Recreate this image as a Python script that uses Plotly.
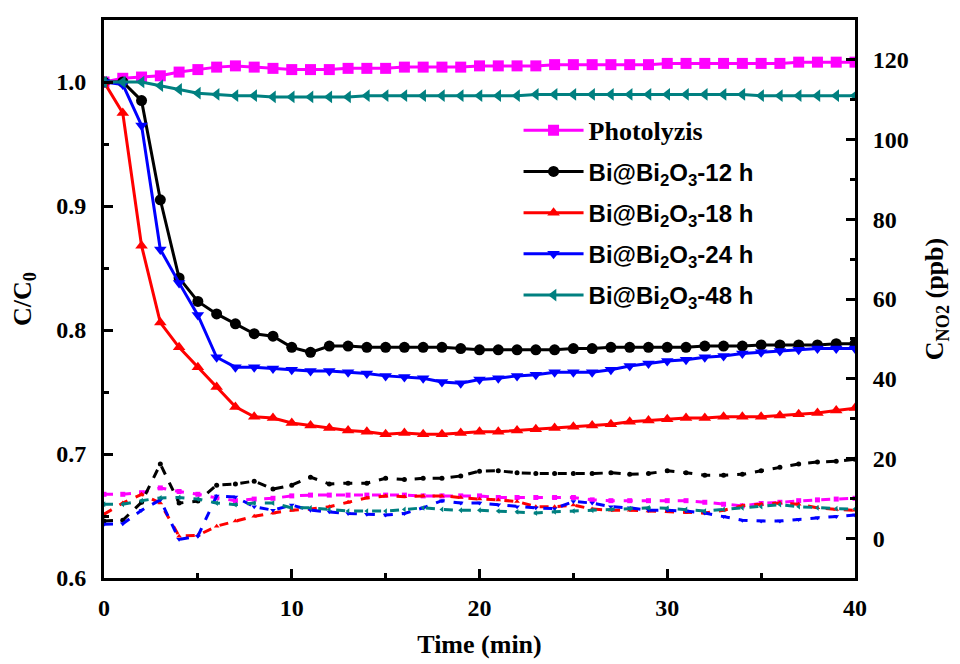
import plotly.graph_objects as go

t = list(range(41))

# C/C0 (left axis)
photolyzis = [1.000, 1.003, 1.004, 1.005, 1.008, 1.010, 1.012, 1.013, 1.012, 1.011, 1.010,
              1.010, 1.010, 1.011, 1.011, 1.011, 1.012, 1.012, 1.012, 1.012, 1.013,
              1.013, 1.013, 1.013, 1.014, 1.014, 1.014, 1.014, 1.014, 1.014, 1.015,
              1.015, 1.015, 1.015, 1.015, 1.015, 1.015, 1.016, 1.016, 1.016, 1.016]
bi12 = [1.000, 1.000, 0.985, 0.905, 0.842, 0.823, 0.813, 0.805, 0.797, 0.795, 0.786,
        0.782, 0.787, 0.787, 0.786, 0.786, 0.786, 0.786, 0.786, 0.785, 0.784,
        0.784, 0.784, 0.784, 0.784, 0.785, 0.785, 0.786, 0.786, 0.786, 0.786,
        0.786, 0.787, 0.787, 0.787, 0.788, 0.788, 0.788, 0.788, 0.789, 0.789]
bi18 = [1.000, 0.975, 0.868, 0.806, 0.786, 0.770, 0.754, 0.738, 0.730, 0.729, 0.725,
        0.723, 0.721, 0.719, 0.718, 0.716, 0.717, 0.716, 0.716, 0.717, 0.718,
        0.718, 0.719, 0.720, 0.721, 0.722, 0.723, 0.724, 0.726, 0.727, 0.728,
        0.729, 0.729, 0.730, 0.730, 0.730, 0.731, 0.732, 0.733, 0.735, 0.737]
bi24 = [1.000, 0.998, 0.965, 0.865, 0.838, 0.812, 0.778, 0.770, 0.770, 0.769, 0.768,
        0.767, 0.767, 0.766, 0.765, 0.763, 0.762, 0.761, 0.758, 0.757, 0.760,
        0.761, 0.763, 0.764, 0.766, 0.766, 0.766, 0.768, 0.771, 0.773, 0.775,
        0.776, 0.778, 0.779, 0.781, 0.782, 0.783, 0.784, 0.785, 0.785, 0.785]
bi48 = [1.000, 1.000, 1.000, 0.997, 0.994, 0.991, 0.990, 0.989, 0.989, 0.988, 0.988,
        0.988, 0.988, 0.988, 0.989, 0.989, 0.989, 0.989, 0.989, 0.989, 0.989,
        0.989, 0.989, 0.990, 0.990, 0.990, 0.990, 0.990, 0.990, 0.990, 0.990,
        0.990, 0.990, 0.990, 0.990, 0.989, 0.989, 0.989, 0.989, 0.989, 0.989]

# C_NO2 (ppb, right axis)
no2_photolyzis = [11.0, 11.0, 11.4, 12.6, 11.7, 11.0, 10.1, 9.4, 9.8, 10.0, 10.6,
                  10.8, 10.8, 10.8, 10.8, 10.8, 10.8, 10.6, 10.6, 10.6, 10.6,
                  10.2, 10.2, 10.2, 10.2, 10.2, 9.6, 9.4, 9.4, 9.4, 9.4,
                  9.4, 9.0, 8.5, 8.1, 8.7, 9.0, 9.4, 9.6, 9.8, 10.0]
no2_bi12 = [4.3, 4.5, 9.0, 18.6, 8.8, 9.3, 13.3, 13.6, 14.3, 12.3, 13.3,
            15.3, 13.6, 13.8, 13.8, 15.0, 14.7, 15.0, 15.0, 15.6, 16.8,
            16.9, 16.4, 16.2, 16.2, 16.2, 16.2, 16.4, 16.0, 16.2, 16.9,
            16.4, 15.8, 15.8, 16.0, 16.9, 17.8, 18.6, 19.1, 19.3, 19.8]
no2_bi18 = [6.0, 8.8, 11.0, 8.8, 0.5, 0.7, 3.0, 4.3, 5.5, 6.3, 7.0,
            7.3, 7.9, 9.0, 10.1, 10.6, 10.4, 10.6, 10.6, 10.2, 9.8,
            9.6, 9.2, 7.9, 7.9, 8.3, 7.3, 7.0, 7.0, 6.8, 6.6,
            6.4, 6.3, 7.0, 8.1, 8.5, 8.8, 8.5, 7.6, 7.2, 7.0]
no2_bi24 = [3.5, 3.6, 7.0, 9.6, -0.3, 0.5, 10.6, 10.3, 7.9, 7.0, 8.3,
            7.0, 6.6, 6.2, 6.0, 5.8, 6.2, 7.6, 9.4, 8.8, 8.8,
            8.4, 7.9, 7.6, 7.4, 9.2, 8.8, 7.9, 7.6, 7.0, 7.0,
            6.8, 6.3, 5.4, 4.5, 4.3, 4.3, 4.7, 5.1, 5.4, 5.8]
no2_bi48 = [8.5, 8.5, 9.4, 10.1, 10.2, 9.8, 8.8, 8.4, 8.8, 8.8, 7.6,
            7.6, 7.2, 6.8, 6.8, 6.8, 7.2, 7.6, 7.2, 7.0, 7.0,
            6.8, 6.6, 6.3, 6.6, 6.8, 7.0, 7.2, 7.4, 7.6, 7.5,
            7.2, 6.8, 7.2, 7.6, 7.9, 8.4, 7.9, 7.6, 7.4, 7.3]

bi_name = "<b>Bi@Bi<sub>2</sub>O<sub>3</sub>-{} h</b>"
names = ["<span style=\"font-family:'Liberation Serif';font-size:26px\"><b>Photolyzis</b></span>",
         bi_name.format(12), bi_name.format(18), bi_name.format(24), bi_name.format(48)]
colors = ["#FF00FF", "#000000", "#FF0000", "#0000FF", "#008080"]
symbols = ["square", "circle", "triangle-up", "triangle-down", "triangle-left"]
main_series = [photolyzis, bi12, bi18, bi24, bi48]
no2_series = [no2_photolyzis, no2_bi12, no2_bi18, no2_bi24, no2_bi48]

fig = go.Figure()

# right-axis (ppb) series, thin dashed with small markers
for ys, c, s in zip(no2_series, colors, symbols):
    fig.add_trace(go.Scatter(x=t, y=ys, yaxis="y2", mode="lines+markers",
                             line=dict(color=c, width=3, dash="dash"),
                             marker=dict(symbol=s, size=5, color=c),
                             showlegend=False, hoverinfo="skip"))

for i, (ys, c, s, n) in enumerate(zip(main_series, colors, symbols, names)):
    fig.add_trace(go.Scatter(x=t, y=ys, mode="lines+markers", name=n,
                             line=dict(color=c, width=3),
                             marker=dict(symbol=s, size=11, color=c),
                             legendgroup=f"g{i}"))

tickfont = dict(family="Liberation Serif", size=24, color="black", weight="bold")
titlefont = dict(family="Liberation Serif", size=26, color="black", weight="bold")
fig.update_layout(
    width=960, height=664,
    margin=dict(l=104, r=105, t=20, b=86),
    paper_bgcolor="white", plot_bgcolor="white",
    showlegend=True,
    legend=dict(x=0.552, y=0.842, xanchor="left", yanchor="top",
                bgcolor="rgba(0,0,0,0)",
                font=dict(family="Liberation Sans", size=24, color="black"),
                tracegroupgap=7, itemwidth=60),
    xaxis=dict(range=[0, 40], dtick=10, tick0=0, showgrid=False, zeroline=False,
               showline=True, linecolor="black", linewidth=3, mirror=True, automargin=False,
               ticks="inside", ticklen=9, tickwidth=3, tickcolor="black",
               minor=dict(dtick=5, ticks="inside", ticklen=5, tickwidth=3, tickcolor="black"),
               tickfont=tickfont, ticklabelstandoff=6,
               title=dict(text="Time (min)", font=titlefont, standoff=16)),
    yaxis=dict(range=[0.6, 1.05], dtick=0.1, tick0=0.6, tickformat=".1f", showgrid=False,
               zeroline=False, showline=True, linecolor="black", linewidth=3, automargin=False,
               ticks="inside", ticklen=9, tickwidth=3, tickcolor="black",
               minor=dict(dtick=0.05, ticks="inside", ticklen=5, tickwidth=3, tickcolor="black"),
               tickfont=tickfont, ticklabelstandoff=10,
               title=dict(text="C/C<sub>0</sub>", font=titlefont, standoff=18)),
    yaxis2=dict(range=[-10, 130], dtick=20, tick0=0, overlaying="y", side="right",
                showgrid=False, zeroline=False, showline=True, linecolor="black", linewidth=3,
                automargin=False,
                ticks="inside", ticklen=9, tickwidth=3, tickcolor="black",
                minor=dict(dtick=10, ticks="inside", ticklen=5, tickwidth=3, tickcolor="black"),
                tickfont=tickfont, ticklabelstandoff=10,
                title=dict(text="C<sub>NO2</sub> (ppb)", font=titlefont, standoff=18)),
)

fig.write_html("out.html")
